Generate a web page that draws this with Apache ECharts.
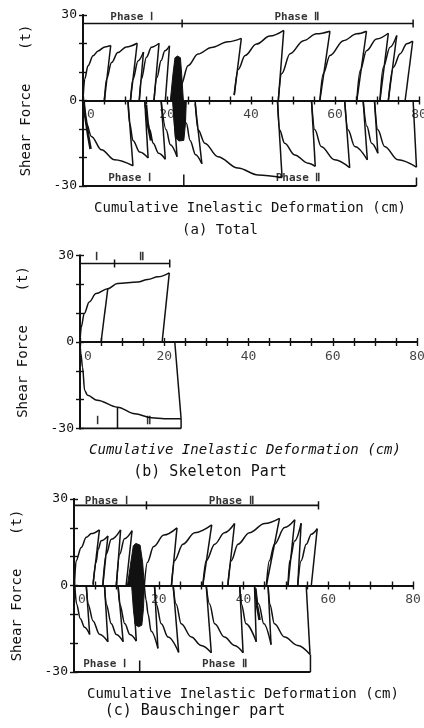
<!DOCTYPE html>
<html>
<head>
<meta charset="utf-8">
<script src="https://cdn.jsdelivr.net/npm/echarts@6/dist/echarts.min.js"></script>
<style>
  html, body { margin: 0; padding: 0; background: #fff; }
  #chart { width: 424px; height: 728px; }
</style>
</head>
<body>
<div id="chart"></div>
<script>
// shear force (t) vs cumulative inelastic deformation (cm)
// each curve: rising branch ... peak, then the unloading end point
var aPos = [
  [[0,0],[0.4,7.5],[1.2,12.2],[2.4,15.7],[3.6,17.4],[5.2,18.8],[6.6,19.3],[5.1,0]],
  [[5.1,0],[5.6,7.5],[6.8,13.3],[8.3,16.8],[10.3,18.8],[12.9,20.1],[11.3,0]],
  [[11.3,0],[11.9,7.5],[13.1,13.9],[14.4,17.0],[13.4,0]],
  [[13.4,0],[13.9,7.5],[15.1,15.2],[16.3,18.7],[18.1,20.1],[16.9,0]],
  [[16.9,0],[17.6,8],[18.6,14],[19.5,17.5],[20.6,19.2],[19.6,0]],
  [[23.0,0],[23.4,5.7],[25.0,12.2],[27.4,16.3],[30.6,18.6],[34.5,20.6],[37.7,21.8],[36.0,1.9]],
  [[36.0,1.9],[37.0,11.0],[38.6,15.8],[41.3,19.8],[44.5,22.6],[47.8,24.6],[46.5,0]],
  [[46.5,0],[47.3,9.4],[49.3,16.4],[52.5,21],[55.6,23.4],[58.8,24.3],[56.4,0]],
  [[56.4,0],[57.2,9.4],[58.8,15.8],[62.0,21],[65.2,23.4],[67.5,24.3],[65.2,0]],
  [[65.2,0],[66.0,10.5],[67.5,17.5],[69.9,21.6],[72.7,23.6],[70.7,0]],
  [[70.7,0],[71.5,11.7],[73.1,18.7],[74.7,22.8],[72.7,0]],
  [[72.7,0],[73.9,11.7],[75.5,16.4],[77.1,19.9],[78.5,20.8],[76.7,0]]
];
var aNeg = [
  [[0.3,0],[0.8,-8.0],[2.0,-12.6],[4.4,-17.3],[7.5,-20.8],[11.9,-22.9],[10.7,0]],
  [[10.7,0],[11.1,-8],[11.9,-14],[13.5,-18.1],[15.5,-20.2],[14.7,0]],
  [[14.7,0],[15.9,-10.3],[16.7,-15],[18.0,-18.5],[19.6,-20.6],[18.6,0]],
  [[18.6,0],[19.8,-10.3],[20.8,-15.5],[22.4,-19.7],[21.4,0]],
  [[23.8,0],[24.6,-8],[25.5,-14],[26.8,-19],[28.3,-22.2],[26.7,-1]],
  [[26.7,0],[27.4,-10.3],[29.0,-15],[32.1,-19.7],[36.9,-23.7],[41.7,-26.1],[47.4,-27.0],[46.3,0]],
  [[46.3,0],[46.8,-10.3],[48.0,-15],[50.4,-19.1],[53.6,-22],[55.3,-23.1],[54.4,0]],
  [[54.4,0],[55.2,-10.3],[56.7,-16.1],[59.9,-20.8],[63.5,-23.6],[62.3,0]],
  [[62.3,0],[63.1,-10.3],[64.7,-16.1],[67.7,-20.8],[66.7,0]],
  [[66.7,0],[67.6,-9],[68.7,-15],[70.2,-18.5],[69.4,0]],
  [[69.4,0],[70.2,-10.3],[71.8,-16.1],[75,-20.8],[79.4,-23.4],[78.6,0]]
];
var aThick = [[[0,0],[0.5,-5],[1.2,-12],[1.8,-17]], [[15.0,-1.5],[15.4,-8],[16.2,-14]]];
var aBandPos = [[20.8,0],[21.4,9],[21.9,15.0],[22.5,15.6],[23.2,15.0],[23.5,9],[23.9,0]];
var aBandNeg = [[21.4,0],[21.7,-8],[22.0,-13],[22.8,-14.2],[24.0,-14.0],[24.4,-8],[24.6,0]];
var aTop = [0, 23.6, 78.6];          // bracket x: start, phase split, end
var aBottomTicks = [[24.0,-26.0],[79.4,-27.0]];
var aBottomEnd = 79.4;

var bPos = [[[0,0],[0.3,5.2],[1.0,9.9],[2.2,13.9],[3.8,16.8],[6.6,18.5],[8.9,20.3],[13.7,20.8],[16.1,21.7],[18.5,22.6],[21.2,24.0],[19.5,0]]];
var bInner = [[[6.6,18.5],[5.0,0]]];
var bNeg = [[[0,0],[0.2,-4],[0.6,-8.7],[1.1,-16.8],[1.8,-18.5],[4.1,-20.2],[8.9,-22.6],[13.0,-24.9],[17.0,-26.3],[20.0,-26.6],[24.0,-26.6],[22.5,0]]];
var bTop = [0, 8.2, 21.3];
var bBottomTicks = [[8.9,-22.6],[24.0,-26.6]];
var bBottomEnd = 24.0;

var cPos = [
  [[0.1,0],[0.5,8.6],[1.7,13.2],[2.9,16.7],[4.1,18.0],[6.0,19.3],[4.5,0.6]],
  [[4.5,0],[5.2,8],[5.7,12.5],[6.4,15.5],[8.0,17.2],[6.8,0]],
  [[6.8,0],[7.6,10.9],[8.8,16.0],[11.0,19.3],[10.0,0]],
  [[10.0,0],[10.8,10.9],[11.9,16.2],[13.7,19.0],[12.3,0]],
  [[16.6,0],[17.3,8],[18.8,13.5],[21.2,17.5],[24.3,20.0],[23.0,0]],
  [[23.0,0],[23.7,8.6],[25.7,14.3],[28.5,18.3],[32.5,21.0],[30.4,0]],
  [[30.4,0],[31.2,8.6],[33.2,14.3],[35.5,18.3],[37.9,21.5],[36.3,0]],
  [[36.3,0],[37.1,8.6],[38.7,14.3],[41.4,18.3],[45.0,21.5],[48.5,23.3],[45.4,0]],
  [[45.4,0],[46.1,8.6],[47.3,14.3],[49.7,20.1],[52.1,22.8],[50.5,0]],
  [[50.5,0],[50.9,8.6],[52.1,15.5],[53.6,21.6],[52.8,0]],
  [[52.8,0],[53.6,8.6],[54.8,14.3],[56.0,17.8],[57.4,19.7],[56.0,0]]
];
var cNeg = [
  [[0.2,0],[0.6,-6.4],[1.5,-11.5],[2.5,-14.5],[3.7,-17.0],[2.9,0]],
  [[2.9,0],[3.3,-6.4],[4.5,-12.3],[6.0,-16.9],[8.0,-19.5],[7.2,0]],
  [[7.2,0],[7.6,-6.4],[8.8,-13.3],[10.0,-17],[11.6,-19.5],[10.4,0]],
  [[10.4,0],[10.8,-6.4],[12.0,-13.3],[13.2,-17],[14.7,-19.3],[13.9,0]],
  [[16.6,0],[17.0,-5],[17.5,-10.1],[18.2,-15.9],[19.8,-21.8],[19.0,0]],
  [[19.0,0],[19.4,-6.4],[20.6,-13.3],[22.2,-17.9],[24.7,-23.2],[23.4,0]],
  [[23.4,0],[24.1,-6.4],[25.3,-13.3],[27.7,-17.9],[30.0,-20.8],[32.4,-23.3],[31.2,0]],
  [[31.2,0],[32.0,-6.4],[33.2,-13.3],[35.5,-17.9],[37.9,-20.8],[39.9,-23.3],[39.1,0]],
  [[39.1,0],[39.5,-6.4],[40.6,-13.3],[43.0,-19.5],[42.6,0]],
  [[42.6,0],[43.6,-6.4],[44.8,-13.3],[46.5,-20.5],[45.8,0]],
  [[45.8,0],[46.2,-6.4],[47.3,-13.3],[49.7,-17.9],[52.8,-20.8],[55.7,-23.9],[54.8,0]]
];
var cThick = [[[42.8,-1],[43.2,-7],[43.8,-12]]];
var cBandPos = [[12.6,0],[13.2,6],[14.0,13.8],[14.6,14.6],[15.6,14.0],[16.2,8],[16.6,0]];
var cBandNeg = [[13.6,0],[14.0,-8],[14.4,-13.5],[15.2,-14.3],[16.0,-13.8],[16.4,-8],[16.6,0]];
var cTop = [0, 17.1, 57.7];
var cBottomTicks = [[15.5,-26.0],[55.8,-23.9]];
var cBottomEnd = 55.8;

var topLevel = [27.0, 27.2, 27.8];
var phaseLabels = [
  [[11.6,29.3,'Phase Ⅰ'],[50.9,29.3,'Phase Ⅱ'],[11.1,-27.4,'Phase Ⅰ'],[51.2,-27.4,'Phase Ⅱ']],
  [[4.0,29.3,'Ⅰ'],[14.6,29.3,'Ⅱ'],[4.1,-27.6,'Ⅰ'],[16.2,-27.6,'Ⅱ']],
  [[7.6,29.3,'Phase Ⅰ'],[37.1,29.3,'Phase Ⅱ'],[7.2,-27.3,'Phase Ⅰ'],[35.5,-27.3,'Phase Ⅱ']]
];
var xTickLabels = [0, 20, 40, 60, 80];
var yTickLabels = [-30, 0, 30];

var FONT = 'DejaVu Sans Mono';
var INK = '#111';
var chart = echarts.init(document.getElementById('chart'));

// each panel gets two identical grids: one carries the data and the outer ticks,
// the other only draws the inner half of the crossing ticks
var rects = [
  {left: 83, top: 15, width: 336, height: 171},
  {left: 80, top: 255.5, width: 337, height: 173},
  {left: 74, top: 499, width: 339, height: 173}
];
var grids = [], xAxes = [], yAxes = [], series = [];

function line(g, data, w, smooth) {
  series.push({
    type: 'line', xAxisIndex: g * 2, yAxisIndex: g * 2, data: data,
    symbol: 'none', smooth: smooth || false, smoothMonotone: smooth ? 'x' : null,
    lineStyle: {color: INK, width: w}, silent: true, z: 3
  });
}
function curves(g, list) {
  list.forEach(function (c) {
    var rise = c.slice(0, -1);
    line(g, rise, 1.5, 0.35);
    line(g, [rise[rise.length - 1], c[c.length - 1]], 1.5);
  });
}
function band(g, data) {
  series.push({
    type: 'line', xAxisIndex: g * 2, yAxisIndex: g * 2, data: data, symbol: 'none',
    lineStyle: {color: INK, width: 1}, areaStyle: {color: INK, opacity: 1}, silent: true, z: 3
  });
}
function brackets(g, top, ticks, endX) {
  var y = topLevel[g];
  line(g, [[top[0], y], [top[2], y]], 1.6);
  line(g, [[top[1], y - 1.4], [top[1], y + 1.4]], 1.5);
  line(g, [[top[2], y - 1.4], [top[2], y + 1.4]], 1.5);
  line(g, [[0, -30], [endX, -30]], 2);
  ticks.forEach(function (t) { line(g, [[t[0], -30], t], 1.5); });
}

[0, 1, 2].forEach(function (g) {
  [false, true].forEach(function (inner) {
    var gi = g * 2 + (inner ? 1 : 0);
    grids.push(rects[g]);
    var tick = {length: 4, inside: inner, lineStyle: {color: INK, width: 1.4}};
    var axisLine = {onZero: true, lineStyle: {color: INK, width: 2}};
    xAxes.push({
      gridIndex: gi, type: 'value', min: 0, max: 80, interval: 5,
      axisLine: axisLine, axisTick: tick, splitLine: {show: false}, axisLabel: {show: false}
    });
    var y = {
      gridIndex: gi, type: 'value', min: -30, max: 30, interval: 10,
      axisLine: axisLine, axisTick: tick, splitLine: {show: false},
      axisLabel: inner ? {show: false} : {
        color: INK, fontFamily: FONT, fontSize: 13, margin: 6,
        formatter: function (v) { return yTickLabels.indexOf(v) < 0 ? '' : String(v); }
      }
    };
    if (!inner) {
      y.name = 'Shear Force    (t)';
      y.nameLocation = 'middle';
      y.nameGap = 50;
      y.nameTextStyle = {color: INK, fontFamily: FONT, fontSize: 14};
    }
    yAxes.push(y);
  });
  // x tick labels sit under the zero line
  series.push({
    type: 'scatter', xAxisIndex: g * 2, yAxisIndex: g * 2, symbolSize: 0, silent: true, z: 4,
    data: xTickLabels.map(function (v) {
      return {value: [v, 0], label: {offset: [v === 0 ? 8 : 0, 0]}};
    }),
    label: {
      show: true, position: 'bottom', distance: 8, color: INK,
      fontFamily: FONT, fontSize: 13,
      formatter: function (p) { return String(p.value[0]); }
    }
  });
  series.push({
    type: 'scatter', xAxisIndex: g * 2, yAxisIndex: g * 2, symbolSize: 0, silent: true, z: 4,
    data: phaseLabels[g].map(function (p) { return {value: [p[0], p[1]], name: p[2]}; }),
    label: {
      show: true, position: 'inside', formatter: '{b}', color: '#000',
      fontFamily: FONT, fontSize: 11, fontWeight: 'bold'
    }
  });
});

curves(0, aPos); curves(0, aNeg);
aThick.forEach(function (d) { line(0, d, 2.6); });
band(0, aBandPos); band(0, aBandNeg);
brackets(0, aTop, aBottomTicks, aBottomEnd);

curves(1, bPos); curves(1, bNeg);
bInner.forEach(function (d) { line(1, d, 1.5); });
brackets(1, bTop, bBottomTicks, bBottomEnd);

curves(2, cPos); curves(2, cNeg);
cThick.forEach(function (d) { line(2, d, 2.6); });
band(2, cBandPos); band(2, cBandNeg);
brackets(2, cTop, cBottomTicks, cBottomEnd);

var captions = [
  [250, 208, 'Cumulative Inelastic Deformation (cm)', 14, 'normal'],
  [220, 230, '(a) Total', 14, 'normal'],
  [245, 450, 'Cumulative Inelastic Deformation (cm)', 14, 'italic'],
  [210, 472, '(b) Skeleton Part', 15, 'normal'],
  [243, 694, 'Cumulative Inelastic Deformation (cm)', 14, 'normal'],
  [195, 711, '(c) Bauschinger part', 15, 'normal']
];

chart.setOption({
  animation: false,
  backgroundColor: '#fff',
  grid: grids,
  xAxis: xAxes,
  yAxis: yAxes,
  series: series,
  graphic: captions.map(function (c) {
    return {
      type: 'text', x: c[0], y: c[1],
      style: {
        text: c[2], fill: INK, align: 'center', verticalAlign: 'middle',
        font: c[4] + ' ' + c[3] + 'px "' + FONT + '"'
      }
    };
  })
});
</script>
</body>
</html>
